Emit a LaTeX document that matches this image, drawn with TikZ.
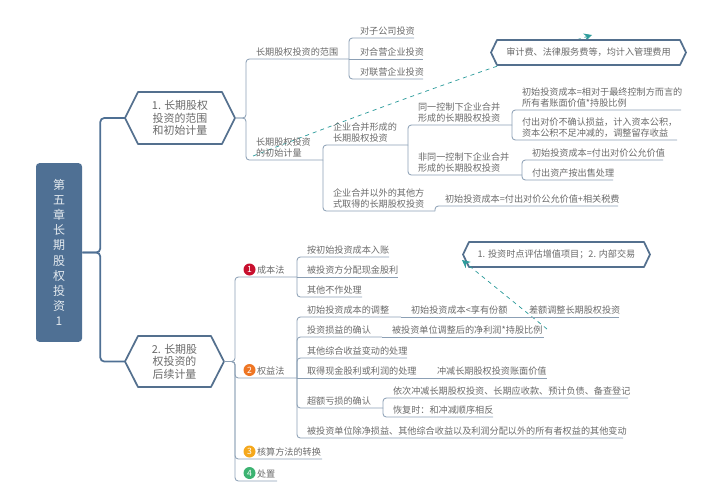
\documentclass[tikz,border=0pt]{standalone}
\usepackage{fontspec}
\setmainfont{Noto Sans CJK SC}
\usetikzlibrary{arrows.meta}
\newcommand\zhcomma{\symbol{"FF0C}}
\newcommand\zhcolon{\symbol{"FF1A}}
\newcommand\zhsemi{\symbol{"FF1B}}
\definecolor{rootblue}{HTML}{4F7094}
\definecolor{edgeblue}{HTML}{8CA0B5}
\definecolor{hexblue}{HTML}{54708E}
\definecolor{ink}{HTML}{6A6A6A}
\definecolor{teal1}{HTML}{2E9C9C}
\definecolor{badgeA}{HTML}{C8102E}
\definecolor{badgeB}{HTML}{EE7624}
\definecolor{badgeC}{HTML}{F5A81C}
\definecolor{badgeD}{HTML}{3CB371}
\tikzset{
  topic/.style={inner xsep=7.5pt,inner ysep=2.1pt,outer sep=0pt,align=left,text=ink,font=\fontsize{6.85}{7.9}\selectfont},
  conn/.style={draw=edgeblue,line width=0.65pt,rounded corners=2.5pt},
  trunk/.style={draw=rootblue,line width=1.3pt,rounded corners=3pt},
  hexline/.style={draw=hexblue,line width=1.3pt,fill=white,line join=round},
  hextext/.style={inner sep=0pt,outer sep=0pt,align=center,text=ink},
  badge/.style={circle,inner sep=0pt,minimum size=9pt,text=white,font=\fontsize{6.5}{7}\selectfont},
  refline/.style={draw=teal1,line width=0.55pt,dashed,-{Stealth[length=6pt,width=6pt]}},
}
\newcommand\topic[5]{\node[topic,anchor=south west,minimum width={(#3-#2)*0.75pt},text width={(#3-#2-20)*0.75pt}] (#1) at (#2,#4) {#5};}
\newcommand\hexa[8]{%
  \draw[hexline] (#2,{(#4+#5)/2}) -- ({#2+#6},#4) -- ({#3-#6},#4) -- (#3,{(#4+#5)/2}) -- ({#3-#6},#5) -- ({#2+#6},#5) -- cycle;
  \node[hextext,font=#7,minimum width={(#3-#2)*0.75pt},minimum height={(#5-#4)*0.75pt}] (#1) at ({(#2+#3)/2},{(#4+#5)/2}) {#8};}
\begin{document}
\begin{tikzpicture}[x=0.75pt,y=-0.75pt]
\useasboundingbox (0,0) rectangle (720,490);
% root
\node[fill=rootblue,rounded corners=2.5pt,minimum width=34.5pt,minimum height=134pt,inner sep=0pt,align=center,text=white!85!rootblue,font=\fontsize{9}{11.4}\selectfont] (root) at (59,252.5) {第\\五\\章\\长\\期\\股\\权\\投\\资\\1};
% dashed references drawn under the callouts
\coordinate (refAstart) at (253,156);
\coordinate (refAend) at (592,35);
\coordinate (refBstart) at (547,329);
\coordinate (refBend) at (462,260);
\draw[refline] (refAstart) .. controls (340,122) and (480,70) .. (refAend);
% hexagons
\hexa{hexA}{125}{235}{92}{144}{13}{\fontsize{8.2}{9.4}\selectfont}{1. 长期股权\\投资的范围\\和初始计量}
\hexa{hexB}{125}{224}{336}{387}{13}{\fontsize{8.2}{9.4}\selectfont}{2. 长期股\\权投资的\\后续计量}
\hexa{callA}{491}{686}{40}{65}{6}{\fontsize{6.85}{7.9}\selectfont}{审计费、法律服务费等\zhcomma 均计入管理费用}
\hexa{callB}{463}{650}{242}{267}{6}{\fontsize{6.85}{7.9}\selectfont}{1. 投资时点评估增值项目\zhsemi 2. 内部交易}
\draw[refline] (refBstart) -- (refBend);
% part 1
\topic{a1}{246}{349}{59}{长期股权投资的范围}
\topic{a11}{350}{414}{38}{对子公司投资}
\topic{a12}{350}{423}{59}{对合营企业投资}
\topic{a13}{350}{423}{79}{对联营企业投资}
\topic{a2}{246}{323}{160}{长期股权投资\\的初始计量}
\topic{a21}{323}{408}{145}{企业合并形成的\\长期股权投资}
\topic{a211}{408}{512}{125}{同一控制下企业合并\\形成的长期股权投资}
\topic{a2111}{512}{681}{110}{初始投资成本=相对于最终控制方而言的\\所有者账面价值*持股比例}
\topic{a2112}{512}{677}{140}{付出对价不确认损益\zhcomma 计入资本公积\zhcomma\\资本公积不足冲减的\zhcomma 调整留存收益}
\topic{a212}{408}{522}{175}{非同一控制下企业合并\\形成的长期股权投资}
\topic{a2121}{522}{663}{160}{初始投资成本=付出对价公允价值}
\topic{a2122}{522}{613}{180}{付出资产按出售处理}
\topic{a22}{323}{435}{211}{企业合并以外的其他方\\式取得的长期股权投资}
\topic{a221}{435}{618}{206}{初始投资成本=付出对价公允价值+相关税费}
% part 2
\topic{b1}{235}{297}{277}{\hspace*{9pt}成本法}
\topic{b11}{297}{389}{257}{按初始投资成本入账}
\topic{b12}{297}{398}{277}{被投资方分配现金股利}
\topic{b13}{297}{362}{297}{其他不作处理}
\topic{b2}{235}{297}{378}{\hspace*{9pt}权益法}
\topic{b21}{297}{401}{317}{初始投资成本的调整}
\topic{b21a}{401}{519}{317}{初始投资成本<享有份额}
\topic{b21b}{519}{619}{317}{差额调整长期股权投资}
\topic{b22}{297}{382}{337}{投资损益的确认}
\topic{b22a}{382}{544}{337}{被投资单位调整后的净利润*持股比例}
\topic{b23}{297}{407}{358}{其他综合收益变动的处理}
\topic{b24}{297}{427}{378}{取得现金股利或利润的处理}
\topic{b24a}{427}{547}{378}{冲减长期股权投资账面价值}
\topic{b25}{297}{383}{408}{超额亏损的确认}
\topic{b251}{383}{628}{398}{依次冲减长期股权投资、长期应收款、预计负债、备查登记}
\topic{b252}{383}{493}{417}{恢复时\zhcolon 和冲减顺序相反}
\topic{b26}{297}{623}{438}{被投资单位除净损益、其他综合收益以及利润分配以外的所有者权益的其他变动}
\topic{b3}{235}{322}{459}{\hspace*{9pt}核算方法的转换}
\topic{b4}{235}{277}{481}{\hspace*{9pt}处置}
% badges
\node[badge,fill=badgeA] (m1) at (249.5,269.5) {1};
\node[badge,fill=badgeB] (m2) at (249.5,370) {2};
\node[badge,fill=badgeC] (m3) at (249.5,451.5) {3};
\node[badge,fill=badgeD] (m4) at (249.5,473) {4};
% connectors
\draw[trunk] (root.east) -- ++(18,0) |- (hexA.west);
\draw[trunk] (root.east) -- ++(18,0) |- (hexB.west);
\foreach \c in {a1,a2} \draw[conn] (hexA.east) -- ++(11,0) |- (\c.south east);
\foreach \c in {a11,a13} \draw[conn] (a1.south east) |- (\c.south east);
\draw[conn] (a1.south east) -- (a12.south east);
\foreach \c in {a21,a22} \draw[conn] (a2.south east) |- (\c.south east);
\foreach \c in {a211,a212} \draw[conn] (a21.south east) |- (\c.south east);
\foreach \c in {a2111,a2112} \draw[conn] (a211.south east) |- (\c.south east);
\foreach \c in {a2121,a2122} \draw[conn] (a212.south east) |- (\c.south east);
\draw[conn] (a22.south east) |- (a221.south east);
\foreach \c in {b1,b2,b3,b4} \draw[conn] (hexB.east) -- ++(11,0) |- (\c.south east);
\foreach \c in {b11,b13} \draw[conn] (b1.south east) |- (\c.south east);
\draw[conn] (b1.south east) -- (b12.south east);
\foreach \c in {b21,b22,b23,b25,b26} \draw[conn] (b2.south east) |- (\c.south east);
\draw[conn] (b2.south east) -- (b24.south east);
\draw[conn] (b21.south east) -- (b21a.south east);
\draw[conn] (b21a.south east) -- (b21b.south east);
\draw[conn] (b22.south east) -- (b22a.south east);
\draw[conn] (b24.south east) -- (b24a.south east);
\foreach \c in {b251,b252} \draw[conn] (b25.south east) |- (\c.south east);
\end{tikzpicture}
\end{document}
